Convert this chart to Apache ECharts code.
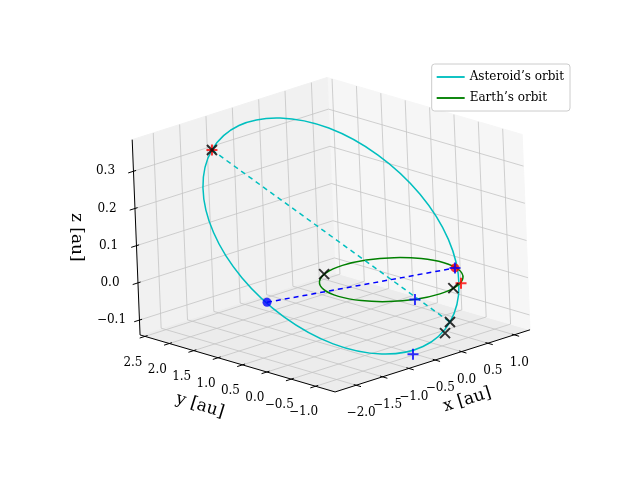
<!DOCTYPE html>
<html><head><meta charset="utf-8">
<script src="https://cdn.jsdelivr.net/npm/echarts@6/dist/echarts.min.js"></script>
<style>html,body{margin:0;padding:0;background:#fff}#c{width:640px;height:480px}</style>
</head><body><div id="c"></div>
<script>
// ---- data (au) ----
const xTicks = [-2.0,-1.5,-1.0,-0.5,0.0,0.5,1.0];
const yTicks = [-1.0,-0.5,0.0,0.5,1.0,1.5,2.0,2.5];
const zTicks = [-0.1,0.0,0.1,0.2,0.3];
const xLim = [-2.4,1.3], yLim = [-1.4,2.6], zLim = [-0.14,0.385];
const asteroidOrbit = [
 [-1.402,2.059,0.333],[-0.854,2.085,0.373],[-0.247,1.898,0.373],[0.326,1.530,0.334],
 [0.778,1.032,0.260],[1.040,0.482,0.164],[1.071,-0.034,0.061],[0.868,-0.441,-0.035],
 [0.460,-0.675,-0.109],[-0.088,-0.701,-0.149],[-0.695,-0.514,-0.149],[-1.268,-0.146,-0.110],
 [-1.720,0.352,-0.036],[-1.982,0.902,0.060],[-2.013,1.418,0.163],[-1.810,1.825,0.259]];
const earthOrbit = [
 [1,0,0],[0.924,0.383,0],[0.707,0.707,0],[0.383,0.924,0],[0,1,0],[-0.383,0.924,0],
 [-0.707,0.707,0],[-0.924,0.383,0],[-1,0,0],[-0.924,-0.383,0],[-0.707,-0.707,0],
 [-0.383,-0.924,0],[0,-1,0],[0.383,-0.924,0],[0.707,-0.707,0],[0.924,-0.383,0]];
const apsidesLine = [[-1.402,2.059,0.333],[0.460,-0.675,-0.109]];
const nodesLine = [[-1.831,0.568,0],[0.941,-0.291,0]];
const blueDots = [[-1.831,0.568,0]];
const redDots = [[0.941,-0.291,0]];
const blackX = [[-1.402,2.059,0.333],[-0.44,0.90,0],[0.30,-0.95,0],[0.460,-0.675,-0.109],[0.310,-0.729,-0.130]];
const redPlus = [[-1.402,2.059,0.333],[0.52,-0.87,0]];
const bluePlus = [[0.941,-0.291,0],[-0.40,-0.92,0],[-0.279,-0.699,-0.161]];
const legendNames = ["Asteroid\u2019s orbit","Earth\u2019s orbit"];

// ---- view projection ----
const O=[391.2,279.6], EX=[52.7,-16.8], EY=[-48.75,-14.25], EZ=[-15,-372];
const P=(p)=>[O[0]+p[0]*EX[0]+p[1]*EY[0]+p[2]*EZ[0], O[1]+p[0]*EX[1]+p[1]*EY[1]+p[2]*EZ[1]];
const proj = a => a.map(P);

const [x0,x1]=xLim,[y0,y1]=yLim,[z0,z1]=zLim;
const panes = [
 {pts:[[x0,y0,z0],[x1,y0,z0],[x1,y1,z0],[x0,y1,z0]], c:'#ececec'},
 {pts:[[x1,y0,z0],[x1,y1,z0],[x1,y1,z1],[x1,y0,z1]], c:'#f6f6f6'},
 {pts:[[x0,y1,z0],[x1,y1,z0],[x1,y1,z1],[x0,y1,z1]], c:'#f1f1f1'}];
const grid = [];
xTicks.forEach(x=>{grid.push([[x,y0,z0],[x,y1,z0]]);grid.push([[x,y1,z0],[x,y1,z1]]);});
yTicks.forEach(y=>{grid.push([[x0,y,z0],[x1,y,z0]]);grid.push([[x1,y,z0],[x1,y,z1]]);});
zTicks.forEach(z=>{grid.push([[x1,y0,z],[x1,y1,z]]);grid.push([[x0,y1,z],[x1,y1,z]]);});
const axesLines = [[[x0,y0,z0],[x1,y0,z0]],[[x0,y0,z0],[x0,y1,z0]],[[x0,y1,z0],[x0,y1,z1]]];
const ticks=[]; const labels=[];
xTicks.forEach(x=>{ticks.push([[x,y0+0.05,z0],[x,y0-0.1,z0]]); labels.push({p:[x,y0,z0],t:x.toFixed(1).replace('-','\u2212'),dx:5,dy:28});});
yTicks.forEach(y=>{ticks.push([[x0+0.05,y,z0],[x0-0.1,y,z0]]); labels.push({p:[x0,y,z0],t:y.toFixed(1).replace('-','\u2212'),dx:-12,dy:26});});
zTicks.forEach(z=>{ticks.push([[x0+0.05,y1,z],[x0-0.1,y1,z]]); labels.push({p:[x0,y1,z],t:z.toFixed(1).replace('-','\u2212'),dx:-28,dy:0});});

const segSeries = (segs,color,w,z)=>({type:'custom',coordinateSystem:'cartesian2d',silent:true,z:z,
  data:segs.map((s,i)=>[i]),
  renderItem:(params,api)=>{const s=segs[params.dataIndex];const a=api.coord(P(s[0])),b=api.coord(P(s[1]));
    return {type:'line',shape:{x1:a[0],y1:a[1],x2:b[0],y2:b[1]},style:{stroke:color,lineWidth:w}};}});
const orbitSeries=(name,pts,color)=>({type:'custom',name:name,silent:true,z:5,data:proj(pts),itemStyle:{color:color},
  renderItem:(params,api)=>{ if(params.dataIndex!==0) return null;
    return {type:'polygon',shape:{points:proj(pts).map(q=>api.coord(q)),smooth:0.35},style:{fill:'none',stroke:color,lineWidth:1.5}};}});
const font='"DejaVu Serif", "Liberation Serif", serif';
const xs='path://M0,0L10,10M10,0L0,10', ps='path://M5,0L5,10M0,5L10,5';
const mark=(name,pts,sym,color,size,z,filled)=>({type:'scatter',name:name,data:proj(pts),symbol:sym,symbolSize:size,z:z,
  itemStyle: filled?{color:color}:{color:'rgba(0,0,0,0)',borderColor:color,borderWidth:2}});

const chart=echarts.init(document.getElementById('c'),null,{renderer:'canvas'});
chart.setOption({
 animation:false,
 grid:{left:0,right:0,top:0,bottom:0},
 xAxis:{type:'value',min:0,max:640,show:false},
 yAxis:{type:'value',min:0,max:480,inverse:true,show:false},
 legend:{data:legendNames.map(n=>({name:n,icon:'path://M0,0L30,0L30,2L0,2Z'})),orient:'vertical',right:70,top:64,
   itemWidth:28,itemHeight:2,itemGap:9,padding:[7,6,7,5],backgroundColor:'#fff',borderColor:'#cccccc',borderWidth:1,borderRadius:3,
   textStyle:{fontFamily:font,fontSize:12,color:'#000'}},
 series:[
  {type:'custom',silent:true,z:1,data:panes.map((p,i)=>[i]),
   renderItem:(params,api)=>{const p=panes[params.dataIndex];
     return {type:'polygon',shape:{points:p.pts.map(q=>api.coord(P(q)))},style:{fill:p.c,stroke:p.c}};}},
  segSeries(grid,'#c4c4c4',0.8,2),
  segSeries(axesLines,'#000',1,3),
  segSeries(ticks,'#000',1,3),
  {type:'custom',silent:true,z:3,data:labels.map((l,i)=>[i]),
   renderItem:(params,api)=>{const l=labels[params.dataIndex];const c=api.coord(P(l.p));
     return {type:'text',x:c[0]+l.dx,y:c[1]+l.dy,style:{text:l.t,fill:'#000',font:'12px '+font,align:'center',verticalAlign:'middle'}};}},
  {type:'custom',silent:true,z:3,data:[[0],[1],[2]],
   renderItem:(params,api)=>{
     const defs=[{p:[(x0+x1)/2+0.6,y0,z0],dx:3,dy:49,t:'x [au]',r:0.3},
                 {p:[x0,(y0+y1)/2-0.5,z0],dx:-62,dy:35,t:'y [au]',r:-0.3},
                 {p:[x0,y1,(z0+z1)/2],dx:-60,dy:0,t:'z [au]',r:-Math.PI/2}];
     const d=defs[params.dataIndex];const c=api.coord(P(d.p));
     return {type:'text',x:c[0]+d.dx,y:c[1]+d.dy,rotation:d.r,
       style:{text:d.t,fill:'#000',font:'17px '+font,align:'center',verticalAlign:'middle'}};}},
  orbitSeries(legendNames[0],asteroidOrbit,'#00bfbf'),
  orbitSeries(legendNames[1],earthOrbit,'#008000'),
  {type:'line',data:proj(apsidesLine),symbol:'none',z:5,lineStyle:{color:'#00bfbf',width:1.5,type:[5,4]}},
  {type:'line',data:proj(nodesLine),symbol:'none',z:5,lineStyle:{color:'#0000ff',width:1.5,type:[5,4]}},
  mark('bd',blueDots,'circle','#0000ff',9,6,true),
  mark('rd',redDots,'circle','#ff0000',9,6,true),
  mark('bx',blackX,xs,'#000',10,7,false),
  mark('rp',redPlus,ps,'#ff0000',11,6,false),
  mark('bp',bluePlus,ps,'#0000ff',11,7,false)
 ]
});
</script></body></html>
